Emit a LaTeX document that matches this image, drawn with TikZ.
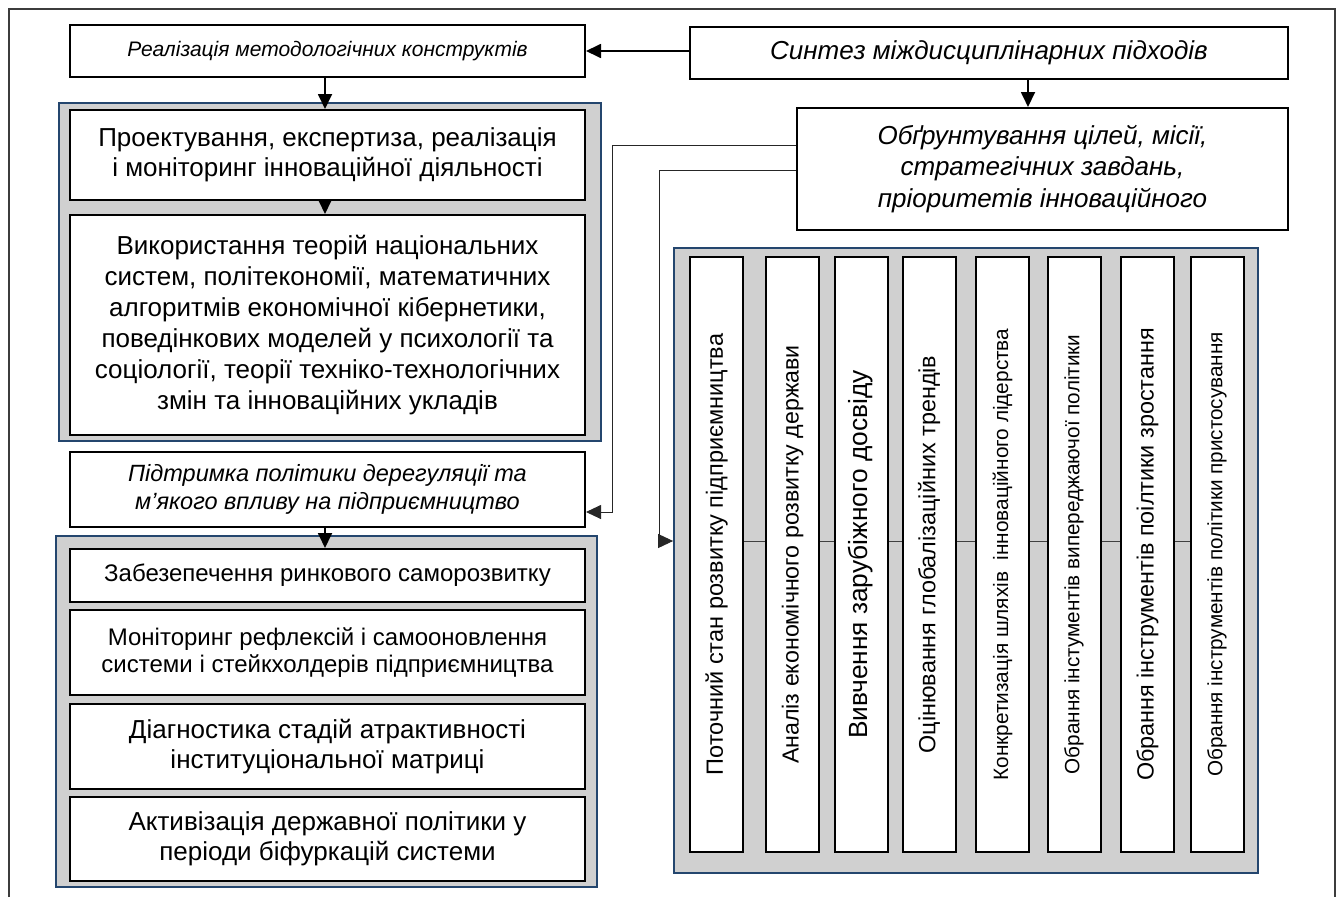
\documentclass[tikz,border=0pt]{standalone}
\usepackage{fontspec}
\setmainfont{Liberation Sans}
\usetikzlibrary{arrows.meta}
\definecolor{grp}{RGB}{208,208,208}
\definecolor{grpb}{RGB}{36,70,110}
\definecolor{frm}{RGB}{60,60,60}
\newcommand{\fs}[2]{\fontsize{#1}{#2}\selectfont}
\tikzset{
  box/.style={draw=black, line width=2pt, fill=white, inner sep=0pt, align=center},
  grpbox/.style={draw=grpb, line width=1.8pt, fill=grp, inner sep=0pt},
  vbox/.style={box, minimum width=53pt, minimum height=595pt},
  vtext/.style={rotate=90, inner sep=0pt},
  main/.style={line width=1.8pt, -{Triangle[length=15pt,width=14pt]}},
  thin/.style={line width=0.9pt, draw=black!85, -{Triangle[length=15pt,width=14pt]}},
  chain/.style={line width=0.8pt, draw=black!75},
}
\begin{document}
\begin{tikzpicture}[x=1pt,y=-1pt]
\useasboundingbox (0,0) rectangle (1340,897);
% outer frame (no bottom side)
\draw[frm, line width=2pt] (9,897) -- (9,9) -- (1335,9) -- (1335,897);

% top row
\node[box, minimum width=515pt, minimum height=52pt, font={\fs{21}{25}\itshape}] (real) at (327.5,51) {Реалізація методологічних конструктів};
\node[box, minimum width=598pt, minimum height=52pt, font={\fs{26}{30}\itshape}] (synth) at (989,53) {Синтез міждисциплінарних підходів};
\node[box, minimum width=491pt, minimum height=122pt, font={\fs{26}{31.5}\itshape}] (obgr) at (1042.5,169) {\raisebox{-3pt}{\parbox{480pt}{\centering Обґрунтування цілей, місії,\\ стратегічних завдань,\\ пріоритетів інноваційного}}};

% group 1
\node[grpbox, minimum width=542pt, minimum height=338pt] (g1) at (330,272) {};
\node[box, minimum width=515pt, minimum height=90pt, font={\fs{26}{30}}] (a1) at (327.5,155) {Проектування, експертиза, реалізація\\ і моніторинг інноваційної діяльності};
\node[box, minimum width=515pt, minimum height=220pt, font={\fs{26}{31}}] (b1) at (327.5,325) {Використання теорій національних\\ систем, політекономії, математичних\\ алгоритмів економічної кібернетики,\\ поведінкових моделей у психології та\\ соціології, теорії техніко-технологічних\\ змін та інноваційних укладів};

% support box
\node[box, minimum width=515pt, minimum height=75pt, font={\fs{23.5}{28}\itshape}] (pid) at (327.5,489.5) {Підтримка політики дерегуляції та\\ м’якого впливу на підприємництво};

% group 2
\node[grpbox, minimum width=541pt, minimum height=351pt] (g2) at (326.5,711.5) {};
\node[box, minimum width=515pt, minimum height=53pt, font={\fs{24}{27}}] (c1) at (327.5,575.5) {Забезепечення ринкового саморозвитку};
\node[box, minimum width=515pt, minimum height=85pt, font={\fs{24}{26.5}}] (c2) at (327.5,652.5) {Моніторинг рефлексій і самооновлення\\ системи і стейкхолдерів підприємництва};
\node[box, minimum width=515pt, minimum height=85pt, font={\fs{26}{30}}] (c3) at (327.5,746.5) {Діагностика стадій атрактивності\\ інституціональної матриці};
\node[box, minimum width=515pt, minimum height=84pt, font={\fs{26}{30}}] (c4) at (327.5,839) {Активізація державної політики у\\ періоди біфуркацій системи};

% group 3
\node[grpbox, minimum width=584pt, minimum height=625pt] (g3) at (966,560.5) {};
\node[vbox] (v1) at (716.5,554.5) {};
\node[vbox] (v2) at (792.5,554.5) {};
\node[vbox] (v3) at (861,554.5) {};
\node[vbox] (v4) at (929,554.5) {};
\node[vbox] (v5) at (1002.5,554.5) {};
\node[vbox] (v6) at (1074,554.5) {};
\node[vbox] (v7) at (1147.5,554.5) {};
\node[vbox] (v8) at (1217,554.5) {};
\node[vtext, font={\fs{23.5}{27}}] (t1) at (v1.center) {Поточний стан розвитку підприємництва};
\node[vtext, font={\fs{23.2}{27}}] (t2) at (v2.center) {Аналіз економічного розвитку держави};
\node[vtext, font={\fs{26.3}{30}}] (t3) at (v3.center) {Вивчення зарубіжного досвіду};
\node[vtext, font={\fs{23.4}{27}}] (t4) at (v4.center) {Оцінювання глобалізаційних трендів};
\node[vtext, font={\fs{20.8}{24}}] (t5) at (v5.center) {Конкретизація шляхів\ \ інноваційного лідерства};
\node[vtext, font={\fs{20.7}{24}}] (t6) at (v6.center) {Обрання інстументів випереджаючої політики};
\node[vtext, font={\fs{23.4}{27}}] (t7) at (v7.center) {Обрання інструментів поілтики зростання};
\node[vtext, font={\fs{20.7}{24}}] (t8) at (v8.center) {Обрання інструментів політики пристосування};

% chain lines between vertical boxes
\foreach \a/\b in {v1/v2,v2/v3,v3/v4,v4/v5,v5/v6,v6/v7,v7/v8}
  \draw[chain] ([yshift=13.5pt]\a.east) -- ([yshift=13.5pt]\b.west);

% main arrows
\draw[main] (synth.west |- real.east) -- (real.east);
\draw[main] ([xshift=-2.5pt]real.south) -- ([xshift=-2.5pt]a1.north);
\draw[main] ([xshift=-2.5pt]a1.south) -- ([xshift=-2.5pt]b1.north);
\draw[main] ([xshift=39pt]synth.south) -- ([xshift=39pt]synth.south |- obgr.north);
\draw[main] ([xshift=-2.5pt]pid.south) -- ([xshift=-2.5pt]c1.north);

% thin connectors from obgr
\coordinate (k1) at (612,145);
\coordinate (k2) at (659,170);
\draw[thin] ([yshift=24pt]obgr.west) -- (k1) -- (k1 |- 0,512) -- ([yshift=-22.5pt]pid.east);
\draw[thin] ([yshift=-1pt]obgr.west) -- (k2) -- (k2 |- 0,541) -- ([yshift=19.5pt]g3.west);
\end{tikzpicture}
\end{document}
